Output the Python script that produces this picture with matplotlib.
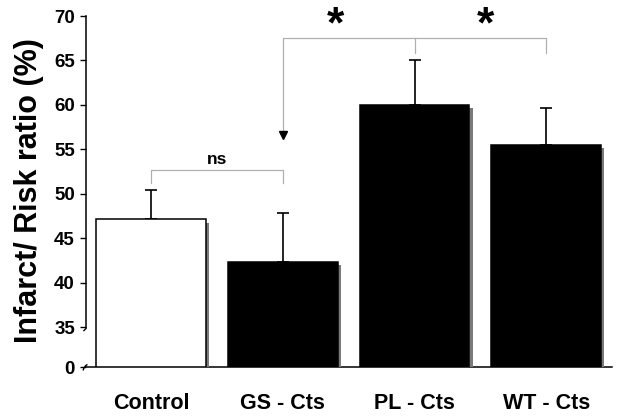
import numpy as np
import matplotlib
matplotlib.use("Agg")
import matplotlib.pyplot as plt
import matplotlib.patheffects as pe
from matplotlib.path import Path
from matplotlib.markers import MarkerStyle

plt.rcParams['font.family'] = ['Liberation Sans', 'DejaVu Sans']
plt.rcParams['font.weight'] = 'bold'

# data
groups = ['Control', 'GS - Cts', 'PL - Cts', 'WT - Cts']
means = [47.1, 42.3, 60.0, 55.5]
errs = [3.3, 5.5, 5.0, 4.2]
faces = ['white', 'black', 'black', 'black']
yticks = [0, 35, 40, 45, 50, 55, 60, 65, 70]

# broken axis: 0..35 squeezed into a short stub below 35
GAP = 4.5
def fwd(v):
    v = np.asarray(v, dtype=float)
    return np.where(v >= 35, v, 35 - GAP + v * GAP / 35)
def inv(u):
    u = np.asarray(u, dtype=float)
    return np.where(u >= 35, u, (u - 35 + GAP) * 35 / GAP)

fig = plt.figure(figsize=(6.22, 4.16), dpi=100)
ax = fig.add_axes([86/622, 1 - 367/416, 526/622, 351/416])
ax.set_yscale('function', functions=(fwd, inv))

x = np.arange(len(groups))
shadow = [pe.SimplePatchShadow(offset=(2.2, -2.2), shadow_rgbFace='#7a7a7a', alpha=1.0), pe.Normal()]
bars = ax.bar(x, means, width=0.833, color=faces, edgecolor='black', linewidth=1.1, zorder=3)
for b in bars:
    b.set_path_effects(shadow)
ax.errorbar(x, means, yerr=[np.zeros(len(errs)), errs], fmt='none', ecolor='black',
            elinewidth=1.2, capsize=4.5, capthick=1.2, zorder=2)

ax.set_xlim(-0.493, 3.498)
ax.set_ylim(0, 70)
ax.set_yticks(yticks)
ax.set_xticks(x)
ax.set_xticklabels(groups, fontsize=15.5, fontweight='bold')
ax.tick_params(axis='x', length=0, pad=19)
ax.tick_params(axis='y', length=4, width=1, pad=4, labelsize=13.5)
for t in ax.get_yticklabels():
    t.set_fontweight('bold')

for s in ['top', 'right']:
    ax.spines[s].set_visible(False)
ax.spines['left'].set_bounds(35, 70)
ax.spines['left'].set_linewidth(1.1)
ax.spines['bottom'].set_linewidth(1.1)

# break marks on the y axis
brk = MarkerStyle(Path([(0, 0), (-0.3, -0.6), (-0.9, -1.0)], [Path.MOVETO, Path.CURVE3, Path.CURVE3]))
brk0 = MarkerStyle(Path([(0.2, 0.6), (-0.4, 0.4), (-0.7, -0.6)], [Path.MOVETO, Path.CURVE3, Path.CURVE3]))
ytr = ax.get_yaxis_transform()
ax.plot([0], [35], marker=brk, markersize=5, mfc='none', mec='black', mew=1,
        transform=ytr, clip_on=False, linestyle='none')
ax.plot([0], [0], marker=brk0, markersize=5, mfc='none', mec='black', mew=1,
        transform=ytr, clip_on=False, linestyle='none')

fig.text(29/622, 1 - 191/416, 'Infarct/ Risk ratio (%)', rotation=90, ha='center', va='center',
         fontsize=22, fontweight='bold')

# significance brackets
gray = '#b0b0b0'
ax.plot([0, 0, 1, 1], [51.2, 52.7, 52.7, 51.2], color=gray, lw=0.9)
ax.text(0.5, 53.0, 'ns', ha='center', va='bottom', fontsize=12.5, fontweight='bold')

ax.plot([1, 1, 3, 3], [57.0, 67.5, 67.5, 65.8], color=gray, lw=0.9)
ax.plot([2, 2], [67.5, 65.8], color=gray, lw=0.9)
ax.plot([1], [56.6], marker='v', color='black', markersize=6, linestyle='none')
ax.text(1.40, 67.6, '*', ha='center', va='baseline', fontsize=32, fontweight='bold', clip_on=False)
ax.text(2.54, 67.6, '*', ha='center', va='baseline', fontsize=32, fontweight='bold', clip_on=False)

fig.savefig('out.png', dpi=100)
